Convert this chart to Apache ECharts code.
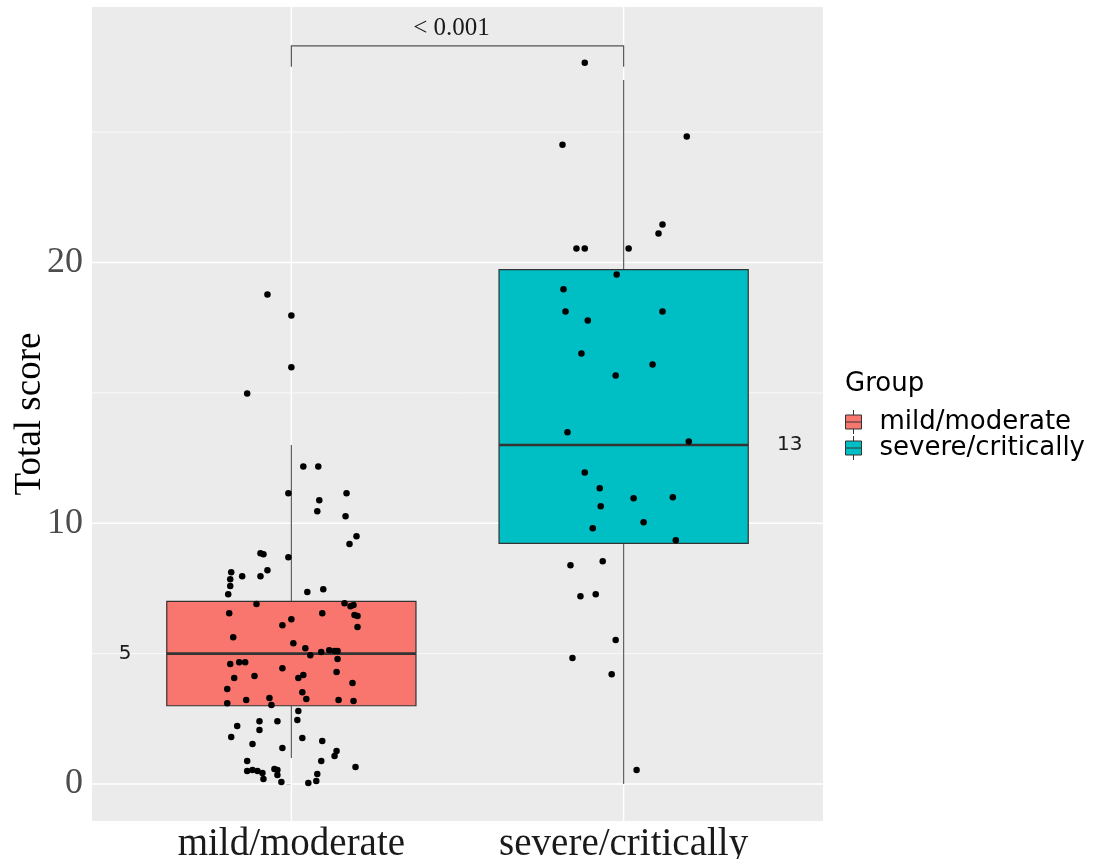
<!DOCTYPE html>
<html>
<head>
<meta charset="utf-8">
<script src="https://cdn.jsdelivr.net/npm/echarts@6/dist/echarts.min.js"></script>
<style>
  html, body { margin: 0; padding: 0; background: #fff; }
  #chart { width: 1109px; height: 859px; }
</style>
</head>
<body>
<div id="chart"></div>
<script>
// groups on the x axis (positions 0 and 1)
var groups = ['mild/moderate', 'severe/critically'];
var groupColors = ['#F8766D', '#00BFC4'];

// box stats: lower whisker, q1, median, q3, upper whisker
var mildBox = [1, 3, 5, 7, 13];
var severeBox = [0, 9.23, 13, 19.73, 27];
var medianText = ['5', '13'];
var medianSide = [-0.5, 0.5];

// jittered points: offset from group centre, total score
var mildJitter = [-0.072, 0.000, 0.000, -0.133, 0.036, 0.081, -0.009, 0.166, 0.084, 0.078,
  0.163, 0.196, 0.175, -0.093, -0.084, -0.009, -0.181, -0.148, -0.093, -0.072,
  -0.184, -0.184, -0.190, 0.048, 0.096, -0.105, 0.160, 0.178, 0.187, -0.187,
  0.093, 0.190, 0.199, 0.000, -0.027, 0.199, -0.175, 0.006, 0.042, 0.057,
  0.090, 0.114, 0.130, 0.139, 0.139, -0.184, -0.157, -0.139, -0.027, 0.136,
  -0.172, -0.111, 0.021, 0.036, -0.193, 0.184, 0.033, -0.193, -0.136, -0.066,
  -0.060, 0.045, 0.142, 0.187, 0.021, -0.096, -0.042, 0.018, -0.163, -0.096,
  -0.181, 0.033, 0.093, -0.117, -0.027, 0.136, 0.130, 0.090, -0.133, -0.133,
  -0.117, -0.102, -0.087, -0.051, -0.042, -0.042, -0.084, -0.030, 0.078, 0.075,
  0.051, 0.193];
var mildScore = [18.77, 17.97, 15.98, 14.98, 12.18, 12.18, 11.15, 11.15, 10.88, 10.46,
  10.27, 9.50, 9.20, 8.85, 8.81, 8.70, 8.12, 7.97, 7.97, 8.20,
  7.85, 7.59, 7.28, 7.36, 7.47, 6.90, 6.93, 6.82, 6.86, 6.55,
  6.55, 6.48, 6.44, 6.32, 6.09, 6.02, 5.63, 5.40, 5.21, 4.94,
  5.06, 5.13, 5.10, 5.10, 4.79, 4.60, 4.67, 4.67, 4.44, 4.29,
  4.06, 4.14, 4.06, 4.18, 3.64, 3.87, 3.52, 3.10, 3.22, 3.30,
  3.03, 3.26, 3.22, 3.18, 2.80, 2.41, 2.41, 2.45, 2.22, 2.07,
  1.80, 1.76, 1.65, 1.53, 1.38, 1.26, 1.07, 0.88, 0.88, 0.50,
  0.54, 0.50, 0.42, 0.57, 0.54, 0.34, 0.19, 0.08, 0.38, 0.11,
  0.04, 0.65];
var severeJitter = [-0.117, -0.184, 0.190, 0.117, 0.105, -0.142, -0.117, 0.015, -0.021, -0.181,
  -0.175, 0.117, -0.108, -0.127, 0.087, -0.024, -0.169, 0.196, -0.117, -0.072,
  0.030, 0.148, -0.069, 0.060, -0.093, 0.157, -0.160, -0.063, -0.130, -0.084,
  -0.024, -0.154, -0.036, 0.039];
var severeScore = [27.66, 24.52, 24.83, 21.46, 21.11, 20.54, 20.54, 20.54, 19.54, 18.97,
  18.12, 18.12, 17.78, 16.51, 16.09, 15.67, 13.49, 13.14, 11.95, 11.34,
  10.96, 11.00, 10.65, 10.04, 9.81, 9.35, 8.39, 8.54, 7.20, 7.28,
  5.52, 4.83, 4.21, 0.54];

// axis ticks and grid
var yTicks = [0, 10, 20];
var yMinor = [5, 15, 25];

// significance bracket: from group, to group, top, ends
var pLabel = '< 0.001';
var bracket = [0, 1, 28.31, 27.51];

var serif = 'Liberation Serif';
var sans = 'DejaVu Sans';

var chart = echarts.init(document.getElementById('chart'));

var gridData = [];
yTicks.forEach(function (v) { gridData.push([0, v]); });
yMinor.forEach(function (v) { gridData.push([1, v]); });
[0, 1].forEach(function (v) { gridData.push([2, v]); });

function renderGrid(params, api) {
  var cs = params.coordSys;
  var kind = api.value(0), v = api.value(1);
  if (kind === 2) {
    var px = api.coord([v, 0])[0];
    return { type: 'line', shape: { x1: px, y1: cs.y, x2: px, y2: cs.y + cs.height },
      style: { stroke: '#ffffff', lineWidth: 1.4 } };
  }
  var py = api.coord([0, v])[1];
  return { type: 'line', shape: { x1: cs.x, y1: py, x2: cs.x + cs.width, y2: py },
    style: { stroke: '#ffffff', lineWidth: kind === 0 ? 1.4 : 0.7 } };
}

function makeBox(gi) {
  return function (params, api) {
    var x = api.value(0);
    var lo = api.coord([x, api.value(1)]);
    var q1 = api.coord([x, api.value(2)]);
    var md = api.coord([x, api.value(3)]);
    var q3 = api.coord([x, api.value(4)]);
    var hi = api.coord([x, api.value(5)]);
    var w = api.size([0.75, 0])[0];
    var cx = lo[0];
    var lab = api.coord([x + medianSide[gi], api.value(3)]);
    return {
      type: 'group',
      children: [
        { type: 'line', shape: { x1: cx, y1: hi[1], x2: cx, y2: q3[1] }, style: { stroke: '#5e5e5e', lineWidth: 1.2 } },
        { type: 'line', shape: { x1: cx, y1: q1[1], x2: cx, y2: lo[1] }, style: { stroke: '#5e5e5e', lineWidth: 1.2 } },
        { type: 'rect', shape: { x: cx - w / 2, y: q3[1], width: w, height: q1[1] - q3[1] },
          style: { fill: api.visual('color'), stroke: '#333333', lineWidth: 1.2 } },
        { type: 'line', shape: { x1: cx - w / 2, y1: md[1], x2: cx + w / 2, y2: md[1] }, style: { stroke: '#333333', lineWidth: 2.6 } },
        { type: 'text', x: lab[0], y: lab[1],
          style: { text: medianText[gi], fill: '#1a1a1a', font: '20px "' + sans + '"', align: 'center', verticalAlign: 'middle' } }
      ]
    };
  };
}

function renderBracket(params, api) {
  var a = api.coord([api.value(0), api.value(2)]);
  var b = api.coord([api.value(1), api.value(2)]);
  var e = api.coord([api.value(0), api.value(3)]);
  return {
    type: 'group',
    children: [
      { type: 'polyline', shape: { points: [[a[0], e[1]], [a[0], a[1]], [b[0], b[1]], [b[0], e[1]]] },
        style: { stroke: '#555555', lineWidth: 1.2, fill: null } },
      { type: 'text', x: (a[0] + b[0]) / 2 - 6, y: a[1] - 17,
        style: { text: pLabel, fill: '#1a1a1a', font: '25px "' + serif + '"', align: 'center', verticalAlign: 'middle' } }
    ]
  };
}

var boxes = [mildBox, severeBox];
var series = [
  { type: 'custom', name: 'grid', z: 1, silent: true, renderItem: renderGrid, data: gridData }
];
groups.forEach(function (g, gi) {
  series.push({
    type: 'custom', name: g, z: 2, silent: true,
    itemStyle: { color: groupColors[gi] },
    renderItem: makeBox(gi),
    data: [[gi].concat(boxes[gi])]
  });
});
series.push({
  type: 'scatter', name: 'points', z: 3, silent: true,
  symbolSize: 6.5, itemStyle: { color: '#000000', opacity: 1 },
  data: mildJitter.map(function (o, i) { return [0 + o, mildScore[i]]; })
    .concat(severeJitter.map(function (o, i) { return [1 + o, severeScore[i]]; }))
});
series.push({ type: 'custom', name: 'bracket', z: 4, silent: true, renderItem: renderBracket, data: [bracket] });

chart.setOption({
  animation: false,
  backgroundColor: '#ffffff',
  title: {
    text: 'Group', left: 840, top: 366,
    textStyle: { fontFamily: sans, fontSize: 26, fontWeight: 'normal', color: '#000' }
  },
  legend: {
    data: groups, orient: 'vertical', left: 840, top: 404,
    itemWidth: 18, itemHeight: 24, itemGap: 0,
    icon: 'path://M1,5L17,5L17,19L1,19Z M1,12L17,12 M9,0L9,5 M9,19L9,24',
    itemStyle: { borderColor: '#333333', borderWidth: 1 },
    textStyle: { fontFamily: sans, fontSize: 26, lineHeight: 24, color: '#000', padding: [0, 0, 0, 12] }
  },
  grid: {
    left: 92, right: 286, top: 7, bottom: 38, outerBoundsMode: 'none',
    show: true, backgroundColor: '#EBEBEB', borderWidth: 0
  },
  xAxis: {
    type: 'value', min: -0.6, max: 1.6,
    axisLine: { show: false },
    splitLine: { show: false },
    axisTick: { show: true, length: 5, lineStyle: { color: '#333' }, customValues: [0, 1] },
    axisLabel: {
      customValues: [0, 1], margin: 4,
      fontFamily: serif, fontSize: 39, color: '#1a1a1a',
      formatter: function (v) { return groups[Math.round(v)]; }
    }
  },
  yAxis: {
    type: 'value', min: -1.42, max: 29.8,
    name: 'Total score', nameLocation: 'middle', nameGap: 43, nameMoveOverlap: false,
    nameTextStyle: { fontFamily: serif, fontSize: 37, color: '#000' },
    axisLine: { show: false },
    splitLine: { show: false },
    axisTick: { show: true, length: 5, lineStyle: { color: '#333' }, customValues: yTicks },
    axisLabel: { customValues: yTicks, margin: 9, fontFamily: serif, fontSize: 36, color: '#4d4d4d' }
  },
  series: series
});
</script>
</body>
</html>
